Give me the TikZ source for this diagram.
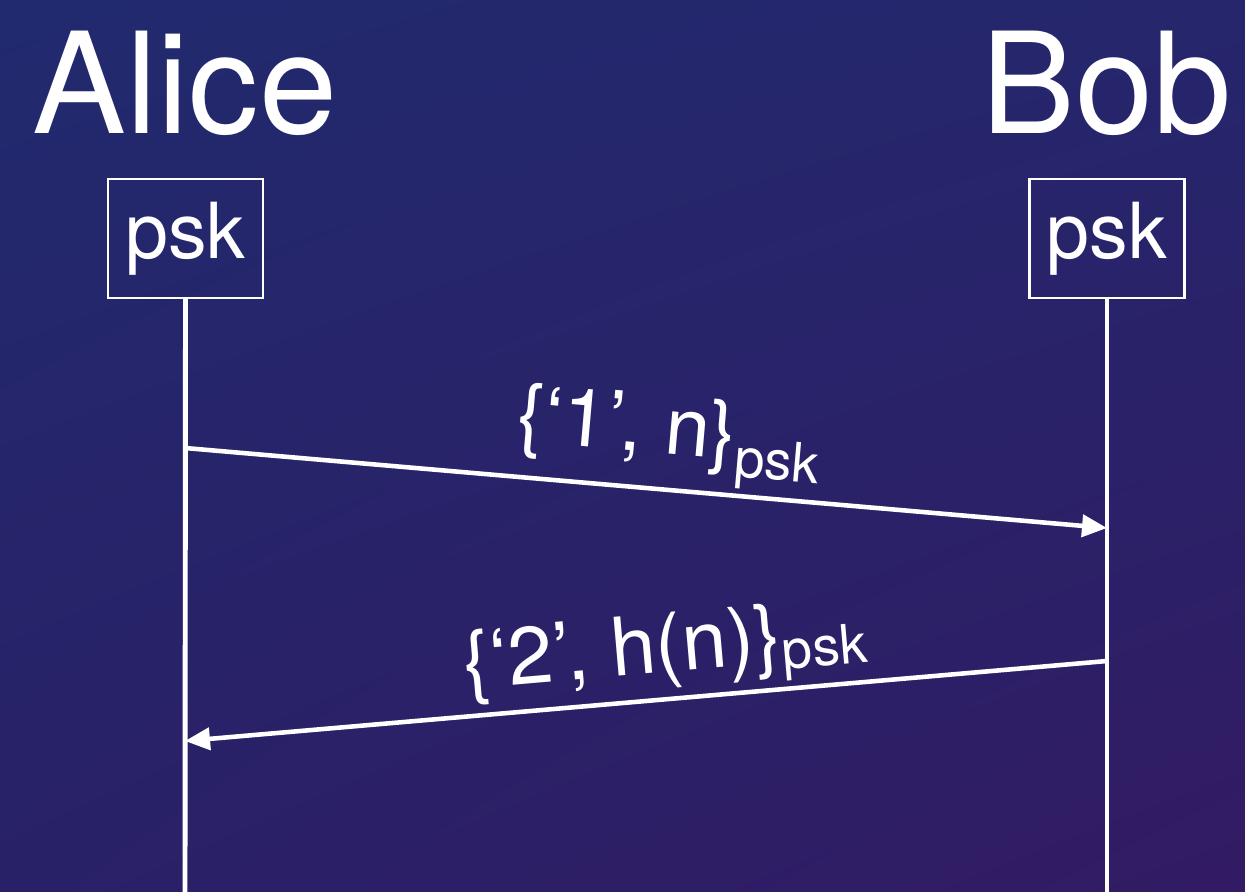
\documentclass[tikz,border=0pt]{standalone}
\usepackage{fontspec}
\setmainfont{TeX Gyre Heros}
\usetikzlibrary{arrows.meta,positioning,shadings}
\definecolor{NightBlue}{RGB}{33,42,110}
\definecolor{NightDusk}{RGB}{37,38,108}
\definecolor{NightDeep}{RGB}{41,33,104}
\definecolor{NightPurple}{RGB}{50,27,100}
\newcommand{\keysub}[2]{\raisebox{#1}{\fontsize{31}{31}\selectfont #2}}

\begin{document}
\begin{tikzpicture}[x=0.02cm, y=-0.02cm,
    party/.style={text=white, inner sep=0pt, anchor=base,
      font=\fontsize{80}{80}\selectfont},
    keybox/.style={draw=white, line width=1.3pt, text=white, inner sep=0pt,
      minimum width=3.1cm, minimum height=2.38cm,
      font=\fontsize{44}{44}\selectfont},
    lifeline/.style={white, line width=2.8pt},
    msg/.style={white, line width=2.6pt, -{Triangle[length=0.5cm,width=0.44cm]}},
    msglabel/.style={sloped, above, text=white, inner sep=3pt,
      font=\fontsize{46}{46}\selectfont}
  ]
  \shade[upper left=NightBlue, upper right=NightDusk,
    lower left=NightDeep, lower right=NightPurple] (0,0) rectangle (1245,892);
  \useasboundingbox (0,0) rectangle (1245,892);

  % parties
  \node[party] (alice) at (185,133) {Alice};
  \node[party] (bob) at (1107,133) {Bob};

  % shared keys
  \node[keybox] (alicekey) at (185.5,238.5) {psk};
  \node[keybox] (bobkey) at (1107,238.5) {psk};

  % lifelines
  \coordinate (aliceend) at (185,892);
  \coordinate (bobend) at (1107,892);
  \draw[lifeline] (alicekey.south) -- (aliceend);
  \draw[lifeline] (bobkey.south) -- (bobend);

  % messages
  \coordinate (alicesend) at (185,448);
  \coordinate (bobrecv) at (1107,528);
  \coordinate (bobsend) at (1107,661);
  \coordinate (alicerecv) at (185,741);
  \draw[msg] (alicesend) -- node[msglabel, pos=0.52] {\{`1', n\}\keysub{-0.2em}{psk}} (bobrecv);
  \draw[msg] (bobsend) -- node[msglabel, pos=0.475] {\{`2', h(n)\}\keysub{-0.1em}{psk}} (alicerecv);
\end{tikzpicture}
\end{document}
